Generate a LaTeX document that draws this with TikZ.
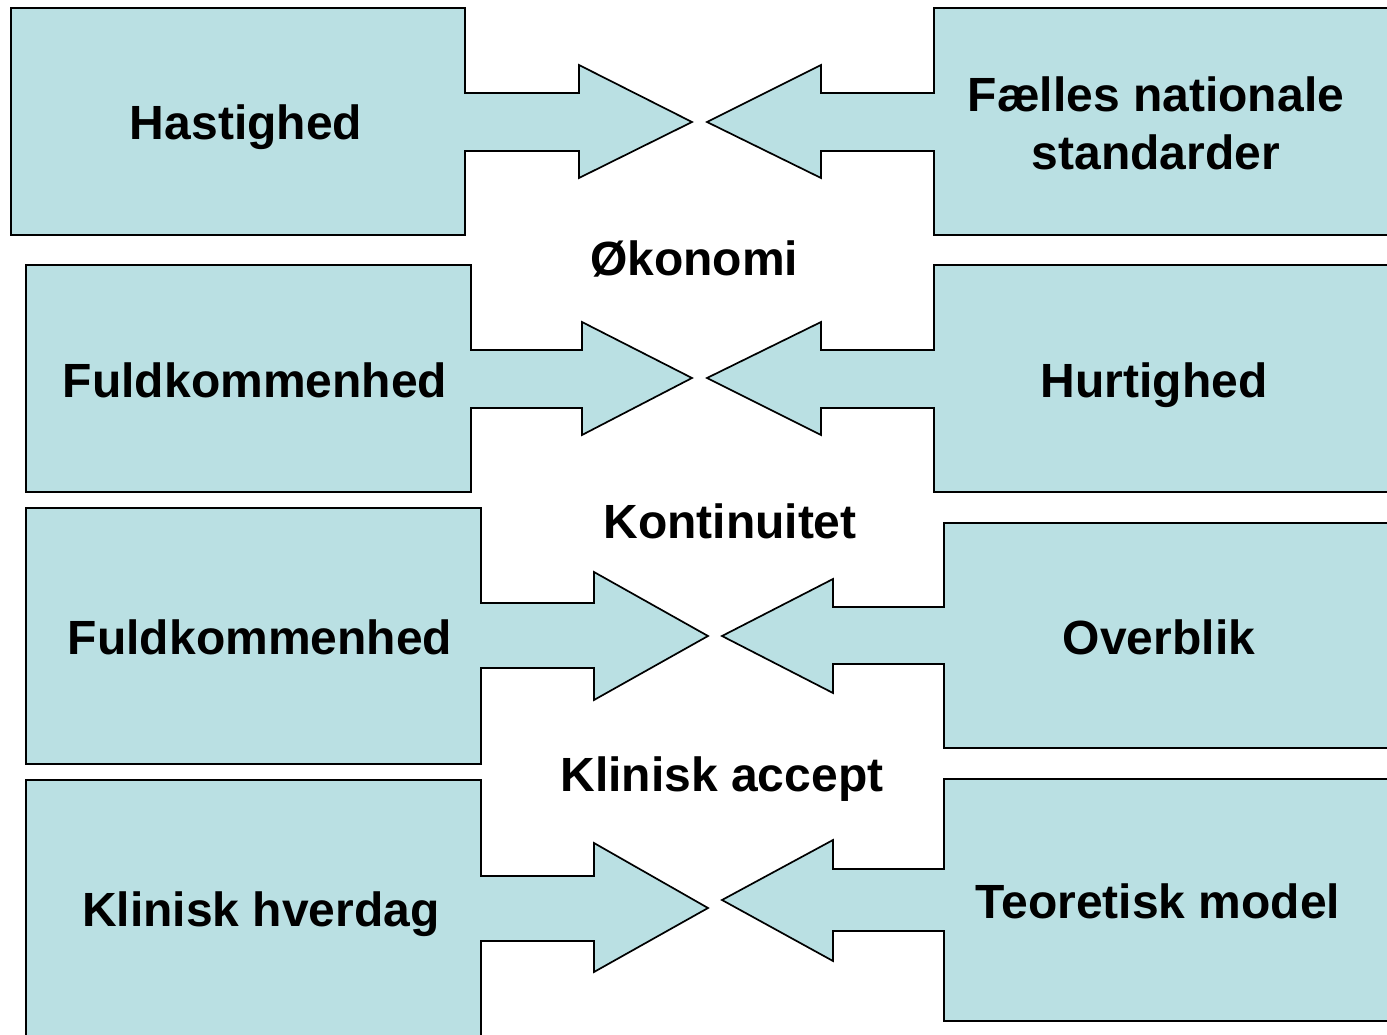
\documentclass[tikz,border=0pt]{standalone}
\usepackage{fontspec}
\setmainfont{Liberation Sans}
\usepackage{tikz}
\definecolor{calloutcyan}{RGB}{186,224,227}

\begin{document}
\begin{tikzpicture}[ % GLOBAL CFG
    x=1pt, y=-1pt,
    font=\fontsize{48}{58}\selectfont\bfseries,
    % Styles
    callout/.style={% For the boxes with an arrow
        draw,
        fill=calloutcyan,
        line width=1.7pt,
        line join=miter,
        },
    boxtext/.style={% For the text inside the boxes
        inner sep=0pt,
        anchor=base,
        },
    midtext/.style={% For the words between the rows
        inner sep=0pt,
        anchor=base,
        },
    ]

    \clip (0,0) rectangle (1387,1035);

    % Row 1
    \draw [callout] (11,8) -- (465,8) -- (465,93) -- (579,93) -- (579,65) -- (692,122)
        -- (579,178) -- (579,151) -- (465,151) -- (465,235) -- (11,235) -- cycle;
    \draw [callout] (1395,8) -- (934,8) -- (934,93) -- (821,93) -- (821,65) -- (707,122)
        -- (821,178) -- (821,151) -- (934,151) -- (934,235) -- (1395,235) -- cycle;
    \node [boxtext] (hast) at (246,140) {Hastighed};
    \node [boxtext, anchor=center, align=center] (faelles) at (1156,123) {Fælles nationale\\standarder};

    \node [midtext] (okon) at (694,276) {Økonomi};

    % Row 2
    \draw [callout] (26,265) -- (471,265) -- (471,350) -- (582,350) -- (582,322) -- (692,378)
        -- (582,435) -- (582,408) -- (471,408) -- (471,492) -- (26,492) -- cycle;
    \draw [callout] (1395,265) -- (934,265) -- (934,350) -- (821,350) -- (821,322) -- (707,378)
        -- (821,435) -- (821,408) -- (934,408) -- (934,492) -- (1395,492) -- cycle;
    \node [boxtext] (fuld1) at (255,397) {Fuldkommenhed};
    \node [boxtext] (hurt) at (1154,397) {Hurtighed};

    \node [midtext] (kont) at (730,538) {Kontinuitet};

    % Row 3
    \draw [callout] (26,508) -- (481,508) -- (481,603) -- (594,603) -- (594,572) -- (708,636)
        -- (594,700) -- (594,668) -- (481,668) -- (481,764) -- (26,764) -- cycle;
    \draw [callout] (1395,523) -- (944,523) -- (944,607) -- (833,607) -- (833,579) -- (722,636)
        -- (833,693) -- (833,664) -- (944,664) -- (944,748) -- (1395,748) -- cycle;
    \node [boxtext] (fuld2) at (260,654) {Fuldkommenhed};
    \node [boxtext] (overb) at (1159,654) {Overblik};

    \node [midtext] (klacc) at (722,791) {Klinisk accept};

    % Row 4
    \draw [callout] (26,1040) -- (26,780) -- (481,780) -- (481,876) -- (594,876) -- (594,843) -- (708,908)
        -- (594,972) -- (594,941) -- (481,941) -- (481,1040) -- cycle;
    \draw [callout] (1395,779) -- (944,779) -- (944,869) -- (833,869) -- (833,840) -- (722,900)
        -- (833,961) -- (833,931) -- (944,931) -- (944,1021) -- (1395,1021) -- cycle;
    \node [boxtext] (hverd) at (261,926) {Klinisk hverdag};
    \node [boxtext] (teor) at (1158,918) {Teoretisk model};

\end{tikzpicture}
\end{document}
